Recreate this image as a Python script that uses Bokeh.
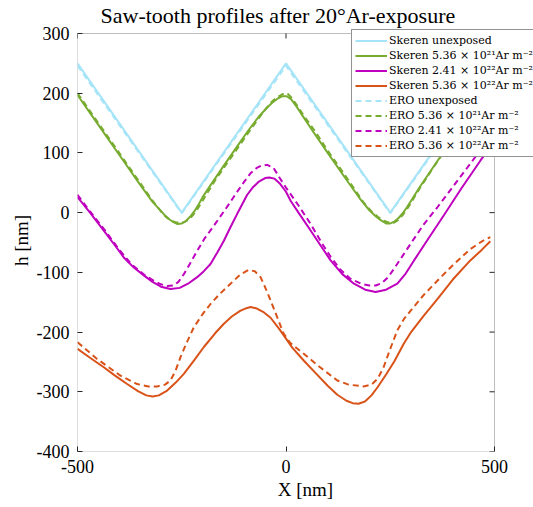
from bokeh.plotting import figure
from bokeh.models import Range1d, Legend, LegendItem, FixedTicker, BoxAnnotation
from bokeh.embed import file_html
from bokeh.resources import INLINE

# ---------------- data ----------------
x_ticks = [-500, 0, 500]
y_ticks = [-400, -300, -200, -100, 0, 100, 200, 300]

# unexposed saw-tooth
x_unexp = [-500, -250, 0, 250, 500]
h_sk_unexp = [250, 0, 250, 0, 250]
h_ero_unexp = [246, -1, 246, -1, 246]

# 5.36e21
x_sk_g = [-500, -450, -400, -350, -320, -300, -290, -280, -270, -260, -250, -240, -230, -220,
          -210, -200, -180, -150, -120, -90, -65, -45, -30, -18, -8, 2, 12, 25, 40, 60, 100,
          150, 180, 200, 215, 228, 240, 250, 260, 270, 280, 290, 300, 320, 350, 400, 450, 480, 500]
h_sk_g = [197, 147, 97, 47, 18, 3, -5, -11, -16, -19, -18, -14, -7, 2,
          13, 26, 47, 78, 108, 138, 161, 176, 186, 192, 195, 195, 190, 178, 162, 141, 100,
          50, 21, 4, -6, -13, -18, -18, -15, -9, -1, 9, 20, 42, 73, 124, 172, 190, 197]
x_ero_g = [-500, -450, -400, -350, -320, -300, -288, -276, -265, -254, -244, -234, -224, -214,
           -200, -170, -140, -110, -80, -55, -38, -24, -12, -4, 4, 14, 28, 45, 70, 100, 150,
           185, 205, 222, 236, 248, 258, 268, 280, 295, 320, 350, 400, 450, 480, 500]
h_ero_g = [200, 150, 100, 50, 20, 2, -7, -13, -16, -17, -16, -12, -5, 4,
           20, 54, 84, 114, 144, 168, 183, 192, 197, 200, 199, 192, 178, 160, 136, 104, 54,
           18, 2, -8, -14, -17, -17, -13, -4, 11, 40, 72, 124, 174, 194, 200]

# 2.41e22
x_sk_m = [-500, -470, -437, -410, -389, -365, -341, -320, -300, -277, -255, -235, -213, -197,
          -181, -165, -149, -133, -117, -105, -93, -80, -65, -50, -40, -28, -15, 0, 11, 30, 59,
          83, 107, 135, 163, 190, 215, 240, 267, 287, 307, 340, 379, 420, 466, 495]
h_sk_m = [26, 0, -30, -55, -75, -92, -105, -116, -124, -128, -126, -119, -108, -98,
          -86, -67, -47, -24, -2, 14, 30, 42, 52, 58, 59, 57, 49, 35, 20, 0, -30,
          -55, -80, -103, -119, -129, -133, -129, -119, -102, -80, -45, -4, 40, 87, 115]
x_ero_m = [-500, -470, -437, -400, -370, -340, -315, -300, -285, -270, -258, -245, -230, -213,
           -195, -173, -141, -120, -100, -85, -70, -58, -45, -30, -15, 0, 11, 30, 60, 85, 107,
           130, 155, 180, 200, 215, 230, 245, 260, 280, 299, 330, 363, 400, 442, 470, 490]
h_ero_m = [30, 2, -27, -62, -87, -104, -115, -120, -123, -122, -116, -103, -85, -64,
           -43, -22, 10, 32, 52, 66, 75, 79, 80, 75, 58, 42, 31, 12, -20, -50, -74,
           -95, -111, -119, -122, -122, -118, -108, -93, -72, -52, -20, 9, 43, 82, 108, 125]

# 5.36e22
x_sk_o = [-500, -470, -437, -410, -381, -355, -335, -320, -305, -285, -265, -245, -220, -197,
          -170, -149, -130, -109, -95, -85, -72, -55, -37, -15, 0, 15, 43, 70, 100, 123, 145,
          160, 174, 190, 205, 220, 240, 260, 282, 300, 330, 363, 400, 442, 470, 490]
h_sk_o = [-228, -243, -259, -273, -287, -299, -306, -308, -306, -298, -285, -270, -247, -225,
          -202, -186, -174, -164, -160, -158, -160, -166, -176, -196, -211, -226, -248, -268, -290, -305, -315,
          -319, -320, -316, -306, -292, -271, -249, -220, -200, -173, -145, -112, -80, -62, -48]
x_ero_o = [-500, -453, -397, -357, -330, -309, -290, -277, -265, -253, -237, -221, -200, -181,
           -160, -133, -110, -90, -75, -61, -50, -37, -20, -6, 10, 42, 80, 123, 150, 186, 205,
           220, 234, 250, 267, 283, 299, 330, 363, 400, 442, 470, 490]
h_ero_o = [-217, -245, -273, -287, -291, -291, -288, -281, -265, -242, -216, -192, -170, -153,
           -137, -119, -104, -96, -98, -108, -125, -147, -177, -202, -218, -236, -258, -281, -288, -291, -288,
           -278, -259, -228, -197, -178, -164, -138, -114, -88, -61, -48, -41]

labels_sk = ["Skeren unexposed",
             "Skeren 5.36 × 10²¹Ar m⁻²",
             "Skeren 2.41 × 10²²Ar m⁻²",
             "Skeren 5.36 × 10²²Ar m⁻²"]
labels_ero = ["ERO unexposed",
              "ERO 5.36 × 10²¹Ar m⁻²",
              "ERO 2.41 × 10²²Ar m⁻²",
              "ERO 5.36 × 10²²Ar m⁻²"]
colors = ["#a6e4f8", "#77ac30", "#bf00bf", "#d95319"]

FONT = "Liberation Serif"
LEG_FONT = "DejaVu Serif"
AX = "#262626"

# frame stretched to the right edge / slightly above the axes box so that the
# legend (which overhangs the axes in the reference) is not clipped
X_LO, X_HI = -500, 500
Y_LO, Y_HI = -400, 300
TOP = 29
px_per_x = (494 - 77) / (X_HI - X_LO)
px_per_y = (451 - 33) / (Y_HI - Y_LO)
x_end = X_LO + (533 - 77) / px_per_x
y_end = Y_HI + (33 - TOP) / px_per_y

p = figure(width=533, height=507, output_backend="svg", toolbar_location=None,
           x_range=Range1d(X_LO, x_end), y_range=Range1d(Y_LO, y_end),
           min_border_left=77, min_border_right=0, min_border_top=TOP, min_border_bottom=56)
p.background_fill_color = "white"
p.border_fill_color = "white"
p.xgrid.visible = False
p.ygrid.visible = False
p.outline_line_color = None

p.title.text = "Saw-tooth profiles after 20°Ar-exposure"
p.title.align = "left"
p.title.offset = 23
p.title.vertical_align = "top"
p.title.text_font = FONT
p.title.text_font_size = "22px"
p.title.text_font_style = "normal"
p.title.text_color = "black"
p.title.standoff = 0

for ax, ticks, lab in ((p.xaxis[0], x_ticks, "X [nm]"), (p.yaxis[0], y_ticks, "h [nm]")):
    ax.ticker = FixedTicker(ticks=ticks)
    ax.major_label_overrides = {t: str(t) for t in ticks}
    ax.axis_label = lab
    ax.axis_label_text_font = FONT
    ax.axis_label_text_font_size = "19px"
    ax.axis_label_text_font_style = "normal"
    ax.axis_label_text_color = "black"
    ax.major_label_text_font = FONT
    ax.major_label_text_font_size = "18px"
    ax.major_label_text_color = "black"
    ax.major_tick_in = 5
    ax.major_tick_out = 0
    ax.minor_tick_in = 0
    ax.minor_tick_out = 0
    ax.axis_line_color = None
    ax.major_tick_line_color = AX
p.xaxis.major_label_standoff = 8
p.xaxis.axis_label_standoff = 3
p.yaxis.major_label_standoff = 8
p.yaxis.axis_label_standoff = 2

# axes box (MATLAB "box on") with inward ticks on the top and right sides
p.add_layout(BoxAnnotation(left=X_LO, right=X_HI, bottom=Y_LO, top=Y_HI,
                           fill_alpha=0, line_color=AX, line_width=1, level="underlay"))
tick_dx = 5 / px_per_x
tick_dy = 5 / px_per_y
p.segment(x0=[X_HI] * len(y_ticks), y0=y_ticks, x1=[X_HI - tick_dx] * len(y_ticks), y1=y_ticks,
          line_color=AX, line_width=1, level="underlay")
p.segment(x0=x_ticks, y0=[Y_HI] * len(x_ticks), x1=x_ticks, y1=[Y_HI - tick_dy] * len(x_ticks),
          line_color=AX, line_width=1, level="underlay")

sk_data = [(x_unexp, h_sk_unexp), (x_sk_g, h_sk_g), (x_sk_m, h_sk_m), (x_sk_o, h_sk_o)]
ero_data = [(x_unexp, h_ero_unexp), (x_ero_g, h_ero_g), (x_ero_m, h_ero_m), (x_ero_o, h_ero_o)]

sk_r = [p.line(xs, hs, line_color=c, line_width=2) for (xs, hs), c in zip(sk_data, colors)]
ero_r = [p.line(xs, hs, line_color=c, line_width=2, line_dash="6 4")
         for (xs, hs), c in zip(ero_data, colors)]
items = [LegendItem(label=l, renderers=[r]) for r, l in zip(sk_r, labels_sk)]
items += [LegendItem(label=l, renderers=[r]) for r, l in zip(ero_r, labels_ero)]

legend = Legend(items=items, location=(351 - 77, 451 - 157))
legend.label_text_font = LEG_FONT
legend.label_text_font_size = "11px"
legend.label_text_line_height = 1.0
legend.label_text_color = "black"
legend.label_standoff = 2
legend.label_height = 15
legend.label_width = 143
legend.glyph_height = 15
legend.glyph_width = 32
legend.spacing = 0
legend.padding = 3
legend.margin = 0
legend.border_line_color = AX
legend.border_line_width = 1
legend.background_fill_color = "white"
legend.background_fill_alpha = 1.0
p.add_layout(legend)

open("out.html", "w").write(file_html(p, INLINE))
